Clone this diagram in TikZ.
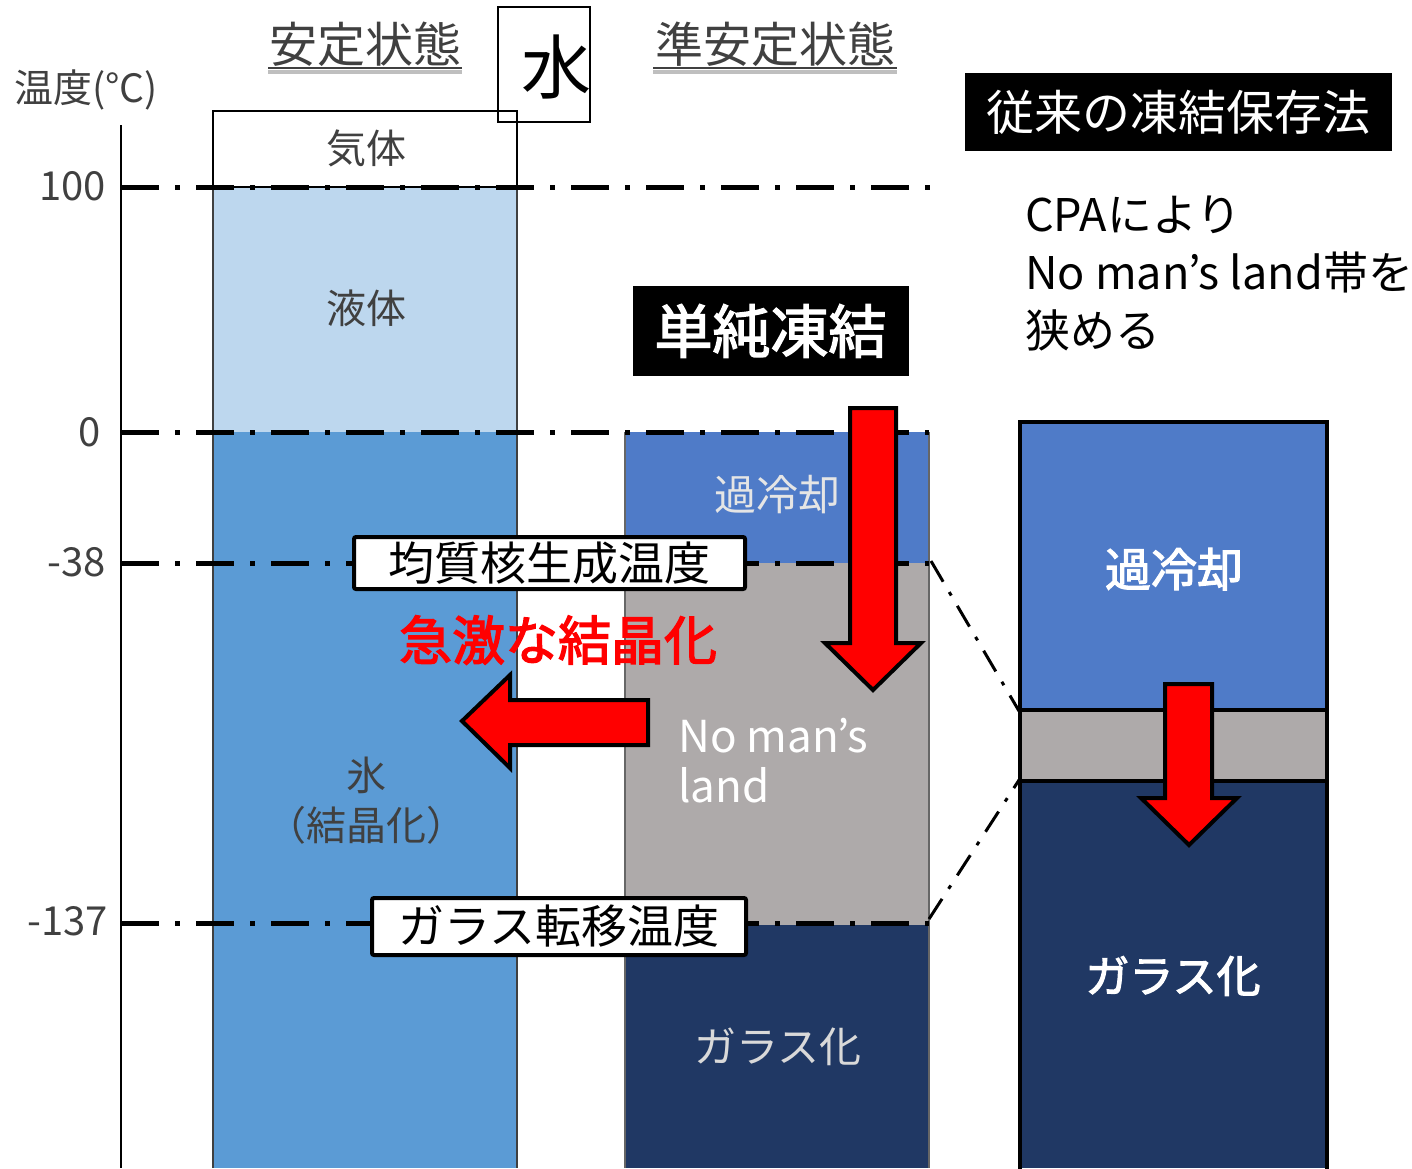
\documentclass[tikz,border=0pt]{standalone}
\usepackage{fontspec}
\newfontfamily\jp[AutoFakeBold=2.5]{Noto Sans CJK JP}
\newcommand\fsz[1]{\fontsize{#1}{#1}\selectfont}
\definecolor{liqc}{HTML}{BDD7EE}
\definecolor{icec}{HTML}{5B9BD5}
\definecolor{supc}{HTML}{4F7BC8}
\definecolor{greyc}{HTML}{AEAAAA}
\definecolor{navyc}{HTML}{203864}
\definecolor{txtg}{HTML}{404040}
\definecolor{arrred}{HTML}{FF0000}
\begin{document}
\begin{tikzpicture}[x=1pt,y=-1pt,
  ddline/.style={line width=5pt, dash pattern=on 38pt off 16pt on 5pt off 16pt},
  thindd/.style={line width=3pt, dash pattern=on 24pt off 12pt on 4pt off 12pt},
  lab/.style={inner sep=0pt, text=txtg, font=\jp\fsz{40}},
  tick/.style={inner sep=0pt, anchor=east, text=txtg, font=\jp\fsz{40}},
  wlab/.style={inner sep=0pt, text=white, font=\jp\fsz{42}},
  tbox/.style={draw=black, line width=4pt, fill=white, rounded corners=2pt, inner sep=0pt, font=\jp\fsz{46}},
  bbox/.style={fill=black, text=white, inner sep=0pt},
  redarrow/.style={fill=arrred, draw=black, line width=4pt, line join=miter}
]
\useasboundingbox (0,0) rectangle (1412,1168);
% left column
\fill[liqc] (213,187) rectangle (517,432);
\fill[icec] (213,432) rectangle (517,1168);
\draw[line width=1.2pt, black!75] (213,187) -- (213,1168) (517,187) -- (517,1168);
\draw[line width=1.2pt] (213,111) rectangle (517,187);
% middle column
\fill[supc] (625,432) rectangle (929,563);
\fill[greyc] (625,563) rectangle (929,925);
\fill[navyc] (625,925) rectangle (929,1168);
\draw[line width=1.2pt, black!60] (625,432) -- (625,1168) (929,432) -- (929,1168);
% right column
\fill[supc] (1020,422) rectangle (1327,710);
\fill[greyc] (1020,710) rectangle (1327,781);
\fill[navyc] (1020,781) rectangle (1327,1168);
\draw[line width=4pt] (1020,1170) -- (1020,422) -- (1327,422) -- (1327,1170);
\draw[line width=4pt] (1020,710) -- (1327,710) (1020,781) -- (1327,781);
% axis
\draw[line width=1.5pt] (121,125) -- (121,1168);
\coordinate (a100) at (121,187);
\coordinate (a0) at (121,432);
\coordinate (a38) at (121,563);
\coordinate (a137) at (121,923);
\coordinate (e100) at (930,187);
\coordinate (e0) at (929,432);
\coordinate (e38) at (929,563);
\coordinate (e137) at (929,923);
\draw[ddline] (a100) -- (e100);
\draw[ddline] (a0) -- (e0);
\draw[ddline] (a38) -- (e38);
\draw[ddline] (a137) -- (e137);
% zoom connectors
\coordinate (z1) at (931,561);
\coordinate (z2) at (1019,711);
\coordinate (z3) at (929,919);
\coordinate (z4) at (1019,780);
\draw[thindd] (z1) -- (z2);
\draw[thindd] (z3) -- (z4);
% tick labels
\node[tick] (t100) at (106,186) {100};
\node[tick] (t0) at (101,432) {0};
\node[tick] (t38) at (106,562) {-38};
\node[tick] (t137) at (108,921) {-137};
\node[lab, anchor=west, font=\jp\fsz{39}] (unit) at (14,90) {温度(°C)};
% titles
\node[lab, font=\jp\fsz{48}] (stable) at (365,44) {安定状態};
\draw[line width=4pt, black!25] (268,72) -- (462,72);
\draw[line width=1.6pt, txtg] (268,68) -- (462,68);
\node[lab, font=\jp\fsz{48}] (meta) at (775,44) {準安定状態};
\draw[line width=4pt, black!25] (653,72) -- (897,72);
\draw[line width=1.6pt, txtg] (653,68) -- (897,68);
\node[draw=black, line width=1.2pt, minimum width=92pt, minimum height=115pt, inner sep=0pt] (mizubox) at (544,64.5) {};
\node[inner sep=0pt, font=\jp\fsz{70}] (mizu) at (556,67) {水};
% left column labels
\node[lab] (gas) at (366,148) {気体};
\node[lab] (liq) at (366,308) {液体};
\node[lab] (ice) at (366,775) {氷};
\node[lab] (icec2) at (366,825) {（結晶化）};
% middle column labels
\node[wlab, text=white!90!black] (sc1) at (777,495) {過冷却};
\node[wlab, text=white, align=left, anchor=west, font=\jp\fsz{44}] (nml) at (678,761) {No man’s\\[6pt]land};
\node[wlab, text=white!85!black] (gl1) at (778,1047) {ガラス化};
% right column labels
\node[wlab, font=\jp\fsz{46}\bfseries] (sc2) at (1174,569) {過冷却};
\node[wlab, font=\jp\fsz{44}\bfseries] (gl2) at (1173,976) {ガラス化};
% black boxes
\node[bbox, minimum width=276pt, minimum height=90pt, font=\jp\fsz{58}\bfseries] (simple) at (770.5,331) {単純凍結};
\node[bbox, minimum width=427pt, minimum height=78pt, font=\jp\fsz{48}] (conv) at (1178,112) {従来の凍結保存法};
\node[inner sep=0pt, anchor=north west, align=left, font=\jp\fontsize{45}{58}\selectfont] (cpa) at (1025,196) {CPAにより\\No man’s land帯を\\狭める};
% white label boxes
\node[tbox, minimum width=391pt, minimum height=52pt] (homo) at (549.5,563) {均質核生成温度};
\node[tbox, minimum width=374pt, minimum height=57pt] (glass) at (559,926.5) {ガラス転移温度};
% red text
\node[inner sep=0pt, text=arrred, font=\jp\fsz{53}\bfseries] (rapid) at (558,640) {急激な結晶化};
% arrows
\draw[redarrow] (462,721) -- (510,675) -- (510,700) -- (648,700) -- (648,745) -- (510,745) -- (510,768) -- cycle;
\draw[redarrow] (850,408) -- (896,408) -- (896,643) -- (921,643) -- (873,690) -- (825,643) -- (850,643) -- cycle;
\draw[redarrow] (1165,684) -- (1212,684) -- (1212,798) -- (1237,798) -- (1189,845) -- (1141,798) -- (1165,798) -- cycle;
\end{tikzpicture}
\end{document}
